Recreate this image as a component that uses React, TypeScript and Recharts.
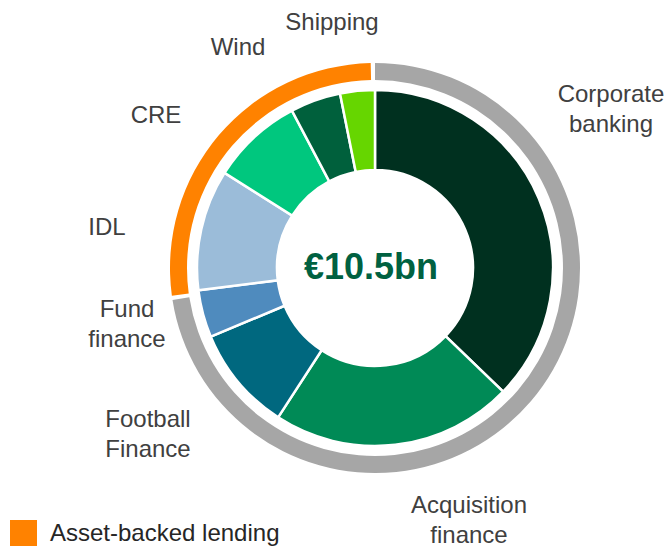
import React from "react";
import { Legend, Pie, PieChart, Cell } from "recharts";

// loan book by segment, €bn
const segments = [
  "Corporate banking",
  "Acquisition finance",
  "Football Finance",
  "Fund finance",
  "IDL",
  "CRE",
  "Wind",
  "Shipping",
];
const amounts = [3.9, 2.3, 1.0, 0.45, 1.15, 0.87, 0.48, 0.33];
const assetBacked = [false, false, false, false, true, true, true, true];
const totalLabel = "€10.5bn";
const legendLabel = "Asset-backed lending";

const segmentColors = ["#00301f", "#008a56", "#00687f", "#4f8bbe", "#9bbcd9", "#00c77e", "#00603c", "#66d600"];
const ORANGE = "#ff8200";
const GREY = "#a6a6a6";
const FONT = "Arial, 'Liberation Sans', Helvetica, sans-serif";

// label placement relative to the pie centre (first baseline)
const labelLayout: Record<string, { dx: number; dy: number; lines: string[] }> = {
  "Corporate banking": { dx: 236, dy: -166, lines: ["Corporate", "banking"] },
  "Acquisition finance": { dx: 94, dy: 245, lines: ["Acquisition", "finance"] },
  "Football Finance": { dx: -227, dy: 159, lines: ["Football", "Finance"] },
  "Fund finance": { dx: -248, dy: 49, lines: ["Fund", "finance"] },
  IDL: { dx: -268, dy: -33, lines: ["IDL"] },
  CRE: { dx: -219, dy: -145, lines: ["CRE"] },
  Wind: { dx: -137, dy: -213, lines: ["Wind"] },
  Shipping: { dx: -43, dy: -238, lines: ["Shipping"] },
};

const innerData = segments.map((name, i) => ({ name, value: amounts[i] }));
const ringData = [
  { name: "Other", value: amounts.filter((_, i) => !assetBacked[i]).reduce((a, b) => a + b, 0) },
  { name: legendLabel, value: amounts.filter((_, i) => assetBacked[i]).reduce((a, b) => a + b, 0) },
];

const renderLabel = (props: any) => {
  const { cx, cy, name } = props;
  const l = labelLayout[name];
  if (!l) return null;
  return (
    <text x={cx + l.dx} y={cy + l.dy} textAnchor="middle" fill="#404040" fontSize={24} fontFamily={FONT}>
      {l.lines.map((t, i) => (
        <tspan key={t} x={cx + l.dx} dy={i === 0 ? 0 : 30}>
          {t}
        </tspan>
      ))}
    </text>
  );
};

const renderLegend = () => (
  <div style={{ display: "flex", alignItems: "center", fontFamily: FONT, fontSize: 24, color: "#262626" }}>
    <span style={{ display: "inline-block", width: 27, height: 26, background: ORANGE, marginRight: 13 }} />
    <span>{legendLabel}</span>
  </div>
);

export default function App() {
  return (
    <div style={{ position: "absolute", left: 0, top: 0, width: 672, height: 547 }}>
      <PieChart width={672} height={547} margin={{ top: 0, right: 0, bottom: 0, left: 0 }}>
        <Pie
          data={innerData}
          dataKey="value"
          cx={375}
          cy={268}
          innerRadius={98}
          outerRadius={178}
          startAngle={90}
          endAngle={-270}
          stroke="#ffffff"
          strokeWidth={2.5}
          label={renderLabel}
          labelLine={false}
          isAnimationActive={false}
        >
          {innerData.map((d, i) => (
            <Cell key={d.name} fill={segmentColors[i]} />
          ))}
        </Pie>
        <Pie
          data={ringData}
          dataKey="value"
          cx={375}
          cy={268}
          innerRadius={188}
          outerRadius={205}
          startAngle={90}
          endAngle={-270}
          paddingAngle={1.2}
          stroke="none"
          isAnimationActive={false}
        >
          <Cell fill={GREY} />
          <Cell fill={ORANGE} />
        </Pie>
        <Legend
          content={renderLegend}
          wrapperStyle={{ position: "absolute", left: 10, top: 519, width: 300, height: 27 }}
        />
      </PieChart>
      <div
        style={{
          position: "absolute",
          left: 271,
          top: 245,
          width: 200,
          textAlign: "center",
          fontFamily: FONT,
          fontWeight: "bold",
          fontSize: 36,
          lineHeight: "44px",
          color: "#006141",
          pointerEvents: "none",
        }}
      >
        {totalLabel}
      </div>
    </div>
  );
}
